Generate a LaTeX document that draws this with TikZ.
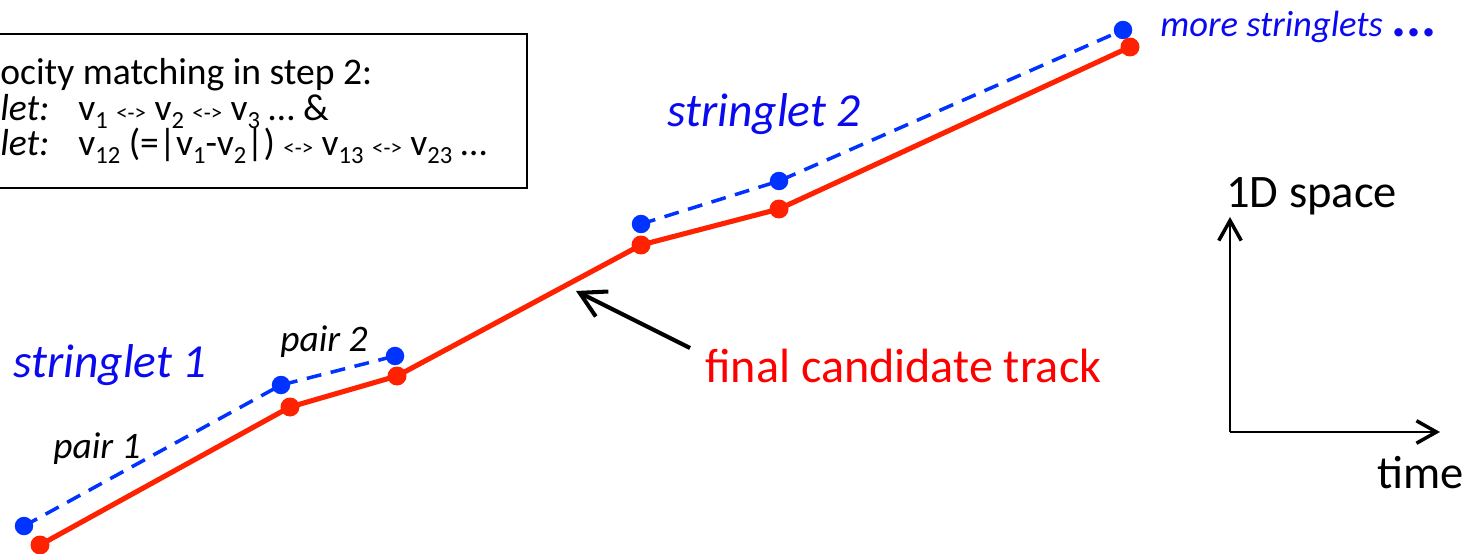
\documentclass[tikz,border=0pt]{standalone}
\usepackage{fontspec}
\setmainfont{Carlito}
\usetikzlibrary{arrows.meta, positioning}
\definecolor{hitblue}{RGB}{0,51,255}
\definecolor{trackred}{RGB}{255,34,0}
\definecolor{labelblue}{RGB}{10,10,240}
\definecolor{labelred}{RGB}{255,0,0}
\newcommand{\lnk}{{\fontsize{13}{12}\selectfont<->}}
\newcommand{\vsub}[1]{v\raisebox{-0.22em}[0pt][0pt]{\fontsize{14}{14}\selectfont #1}}

\begin{document}
\begin{tikzpicture}[x=0.02cm, y=-0.02cm,
    track/.style={line width=2.9pt, color=trackred, line join=round, line cap=round},
    seedline/.style={line width=2pt, color=hitblue, dash pattern=on 8.5pt off 5.5pt},
    redhit/.style={circle, fill=trackred, inner sep=0pt, minimum size=0.38cm},
    bluehit/.style={circle, fill=hitblue, inner sep=0pt, minimum size=0.37cm},
    stringlet/.style={inner sep=0pt, anchor=base west, text=labelblue, font=\fontsize{27}{30}\selectfont\itshape},
    pairlabel/.style={inner sep=0pt, anchor=base west, font=\fontsize{21.3}{24}\selectfont\itshape},
    axislabel/.style={inner sep=0pt, anchor=base west, font=\fontsize{26.5}{30}\selectfont},
    infoline/.style={inner sep=0pt, anchor=base west, font=\fontsize{21.4}{20}\selectfont},
    infobox/.style={draw, line width=1.4pt, inner sep=0pt, minimum width=12cm, minimum height=3.08cm, anchor=north east},
    axis/.style={line width=1.1pt, -{Straight Barb[length=4mm, width=4.5mm, line width=2pt]}},
    pointer/.style={line width=2.3pt, -{Straight Barb[length=5mm, width=5.6mm]}}
]
\clip (0,0) rectangle (1467,554);

\node[infobox] (info) at (528,33) {};
\node[infoline] (info1) at (0,85) {ocity matching in step 2:};
\node[infoline] (info2) at (0,120) {\makebox[1.56cm][l]{\itshape let:}\vsub{1} \lnk{} \vsub{2} \lnk{} \vsub{3} \dots{} \&};
\node[infoline] (info3) at (0,155) {\makebox[1.56cm][l]{\itshape let:}\vsub{12} (=|\vsub{1}-\vsub{2}|) \lnk{} \vsub{13} \lnk{} \vsub{23} \dots};

\coordinate (r0) at (40,545);
\coordinate (r1) at (290,407);
\coordinate (r2) at (397,376);
\coordinate (r3) at (641,245);
\coordinate (r4) at (779,209);
\coordinate (r5) at (1130,47);
\coordinate (b0) at (24,526);
\coordinate (b1) at (281,385);
\coordinate (b2) at (395,356);
\coordinate (b3) at (641,224);
\coordinate (b4) at (779,181);
\coordinate (b5) at (1123,30);

\draw[seedline] (b0) -- (b1) -- (b2);
\draw[seedline] (b3) -- (b4) -- (b5);
\draw[track] (r0) -- (r1) -- (r2) -- (r3) -- (r4) -- (r5);
\foreach \p in {b0,b1,b2,b3,b4,b5}
  \node[bluehit] at (\p) {};
\foreach \p in {r0,r1,r2,r3,r4,r5}
  \node[redhit] at (\p) {};

\node[stringlet] (sl1) at (13,377) {stringlet 1};
\node[stringlet] (sl2) at (667,127) {stringlet 2};
\node[pairlabel] (pair1) at (53,458) {pair 1};
\node[pairlabel] (pair2) at (280,351) {pair 2};
\node[inner sep=0pt, anchor=base west, text=labelblue, font=\fontsize{20.8}{24}\selectfont\itshape] (more) at (1160,37) {more stringlets {\upshape\bfseries\fontsize{32}{32}\selectfont...}};

\node[inner sep=0pt, anchor=base west, text=labelred, font=\fontsize{27.4}{30}\selectfont] (final) at (705,382) {final candidate track};
\coordinate (ptr) at (690,348);
\coordinate (tip) at (576,291);
\draw[pointer] (ptr) -- (tip);

\coordinate (origin) at (1230,432);
\coordinate (yend) at (1230,217);
\coordinate (xend) at (1440,432);
\draw[axis] (origin) -- (yend);
\draw[axis] (origin) -- (xend);
\node[axislabel] (space) at (1226,207) {1D space};
\node[axislabel] (time) at (1377,488) {time};
\end{tikzpicture}
\end{document}
